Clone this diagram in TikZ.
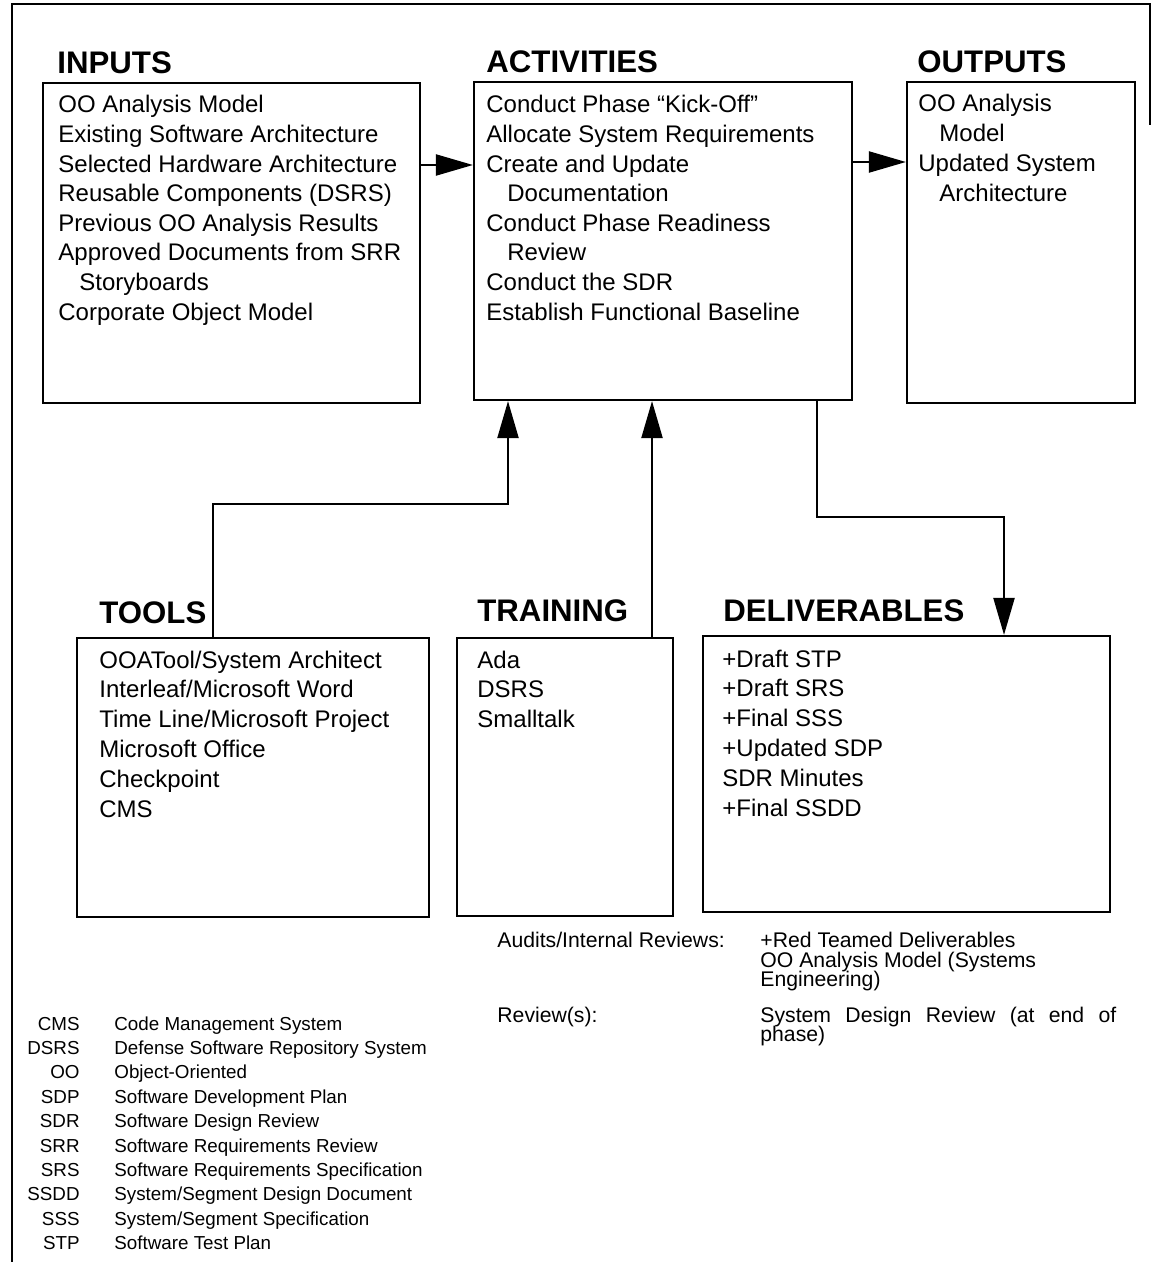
\documentclass[tikz,border=0pt]{standalone}
\usepackage{fontspec}
\setmainfont{Liberation Sans}
\usetikzlibrary{arrows.meta,fit}

\newcommand\ind{\hspace*{10.5pt}}

\tikzset{
  box/.style={draw, line width=1.1pt, inner sep=0pt},
  frameline/.style={line width=1.1pt},
  arr/.style={line width=1.1pt, -{Triangle[length=18.5pt,width=10.5pt]}},
  head/.style={anchor=base west, inner sep=0pt, font=\fontsize{15.6}{18}\selectfont\bfseries},
  txt/.style={anchor=base west, inner sep=0pt, font=\fontsize{12}{14}\selectfont},
  note/.style={anchor=base west, inner sep=0pt, font=\fontsize{10.6}{12}\selectfont},
  abbr/.style={anchor=base east, inner sep=0pt, font=\fontsize{9.4}{11}\selectfont},
  expl/.style={anchor=base west, inner sep=0pt, font=\fontsize{9.4}{11}\selectfont},
}

\begin{document}
\begin{tikzpicture}[x=0.5pt, y=-0.5pt]
\useasboundingbox (0,0) rectangle (1154,1262);

% outer frame
\draw[frameline] (1150,125) -- (1150,4) -- (12,4) -- (12,1262);

% boxes
\node[box, fit={(43,83) (420,403)}] (inputs) {};
\node[box, fit={(474,82) (852,400)}] (activities) {};
\node[box, fit={(907,82) (1135,403)}] (outputs) {};
\node[box, fit={(77,638) (429,917)}] (tools) {};
\node[box, fit={(457,638) (673,916)}] (training) {};
\node[box, fit={(703,636) (1110,912)}] (deliverables) {};

% headings
\node[head] (h-in)  at (57,74)  {INPUTS};
\node[head] (h-act) at (486,73) {ACTIVITIES};
\node[head] (h-out) at (917,73) {OUTPUTS};
\node[head] (h-tl)  at (99,623) {TOOLS};
\node[head] (h-tr)  at (477,621) {TRAINING};
\node[head] (h-dl)  at (723,621) {DELIVERABLES};

% box contents
\foreach \t [count=\i from 0] in {OO Analysis Model, Existing Software Architecture,
    Selected Hardware Architecture, Reusable Components (DSRS),
    Previous OO Analysis Results, Approved Documents from SRR,
    \ind Storyboards, Corporate Object Model}
  \node[txt] (in-\i) at (58,{113+29.6*\i}) {\t};

\foreach \t [count=\i from 0] in {Conduct Phase “Kick-Off”, Allocate System Requirements,
    Create and Update, \ind Documentation, Conduct Phase Readiness,
    \ind Review, Conduct the SDR, Establish Functional Baseline}
  \node[txt] (act-\i) at (486,{113+29.6*\i}) {\t};

\foreach \t [count=\i from 0] in {OO Analysis, \ind Model, Updated System, \ind Architecture}
  \node[txt] (out-\i) at (918,{112+30*\i}) {\t};

\foreach \t [count=\i from 0] in {OOATool/System Architect, Interleaf/Microsoft Word,
    Time Line/Microsoft Project, Microsoft Office, Checkpoint, CMS}
  \node[txt] (tl-\i) at (99,{668+29.8*\i}) {\t};

\foreach \t [count=\i from 0] in {Ada, DSRS, Smalltalk}
  \node[txt] (tr-\i) at (477,{668+29.8*\i}) {\t};

\foreach \t [count=\i from 0] in {+Draft STP, +Draft SRS, +Final SSS, +Updated SDP,
    SDR Minutes, +Final SSDD}
  \node[txt] (dl-\i) at (722,{667+29.8*\i}) {\t};

% connectors
\coordinate (a1) at (0,165);
\coordinate (a2) at (0,162);
\draw[arr] (inputs.east |- a1) -- (activities.west |- a1);
\draw[arr] (activities.east |- a2) -- (outputs.west |- a2);

\coordinate (t1) at (213,504);
\coordinate (t2) at (508,504);
\draw[arr] (tools.north -| t1) -- (t1) -- (t2) -- (activities.south -| t2);

\coordinate (tr) at (652,0);
\draw[arr] (training.north -| tr) -- (activities.south -| tr);

\coordinate (d1) at (817,517);
\coordinate (d2) at (1004,517);
\draw[arr] (activities.south -| d1) -- (d1) -- (d2) -- (deliverables.north -| d2);

% reviews
\node[note] (aud)  at (497,947)  {Audits/Internal Reviews:};
\node[note] (aud1) at (760,947)  {+Red Teamed Deliverables};
\node[note] (aud2) at (760,967)  {OO Analysis Model (Systems};
\node[note] (aud3) at (760,986)  {Engineering)};
\node[note] (rev)  at (497,1022) {Review(s):};
\node[note] (rev1) at (760,1022) {\makebox[178pt][s]{System Design Review (at end of}};
\node[note] (rev2) at (760,1041) {phase)};

% abbreviations
\foreach \a/\d [count=\i from 0] in {CMS/Code Management System,
    DSRS/Defense Software Repository System, OO/Object-Oriented,
    SDP/Software Development Plan, SDR/Software Design Review,
    SRR/Software Requirements Review, SRS/Software Requirements Specification,
    SSDD/System\slash Segment Design Document, SSS/System\slash Segment Specification,
    STP/Software Test Plan}
{
  \node[abbr] (ab-\i) at (80,{1030+24.4*\i}) {\a};
  \node[expl] (ex-\i) at (114,{1030+24.4*\i}) {\d};
}
\end{tikzpicture}
\end{document}
